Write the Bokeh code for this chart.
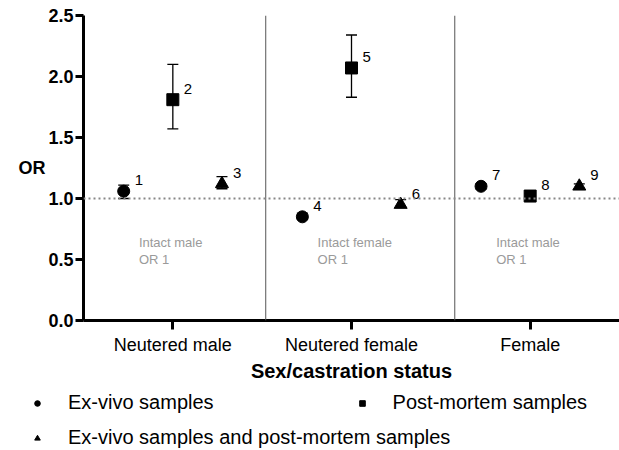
from bokeh.plotting import figure
from bokeh.models import (ColumnDataSource, Whisker, TeeHead, Span, Legend, LegendItem,
                          FixedTicker, NumeralTickFormatter, Range1d)
from bokeh.core.properties import value
from bokeh.embed import file_html
from bokeh.resources import INLINE

# ---- data ----
groups = ["Neutered male", "Neutered female", "Female"]
series = ["Ex-vivo samples", "Post-mortem samples", "Ex-vivo samples and post-mortem samples"]
point_labels = ["1", "2", "3", "4", "5", "6", "7", "8", "9"]
point_group = [0, 0, 0, 1, 1, 1, 2, 2, 2]
point_series = [0, 1, 2, 0, 1, 2, 0, 1, 2]
or_value = [1.06, 1.81, 1.12, 0.85, 2.07, 0.95, 1.10, 1.02, 1.10]
ci_lower = [1.00, 1.57, 1.08, 0.83, 1.83, 0.93, 1.08, 1.00, 1.08]
ci_upper = [1.11, 2.10, 1.18, 0.88, 2.34, 0.99, 1.12, 1.04, 1.12]
reference_labels = ["Intact male\nOR 1", "Intact female\nOR 1", "Intact male\nOR 1"]
y_ticks = [0.0, 0.5, 1.0, 1.5, 2.0, 2.5]

markers = ["circle", "square", "triangle"]
marker_sizes = [12, 12, 13]
offsets = [-0.275, 0.0, 0.275]
FONT = "Liberation Sans"

xs = [point_group[i] + 1 + offsets[point_series[i]] for i in range(len(or_value))]

p = figure(width=619, height=386, output_backend="svg", toolbar_location=None,
           x_range=Range1d(0.5, 3.5), y_range=Range1d(0, 2.5),
           min_border_left=83, min_border_right=0, min_border_top=15, min_border_bottom=66)
p.outline_line_color = None
p.grid.visible = False
p.background_fill_color = "white"
p.border_fill_color = "white"

# separators and reference line
for sx in [1.52, 2.578]:
    p.add_layout(Span(location=sx, dimension="height", line_color="#555555", line_width=1))
p.add_layout(Span(location=1.0, dimension="width", line_color="#888888", line_width=2.2,
                  line_dash="2 3"))

# error bars
src = ColumnDataSource(dict(x=xs, y=or_value, lo=ci_lower, hi=ci_upper, lab=point_labels))
p.add_layout(Whisker(source=src, base="x", lower="lo", upper="hi", dimension="height",
                     line_color="black", line_width=1.3,
                     upper_head=TeeHead(size=11, line_color="black", line_width=1.3),
                     lower_head=TeeHead(size=11, line_color="black", line_width=1.3)))

# points per series
series_sources = []
for s in range(3):
    idx = [i for i in range(len(or_value)) if point_series[i] == s]
    ssrc = ColumnDataSource(dict(x=[xs[i] for i in idx], y=[or_value[i] for i in idx]))
    series_sources.append(ssrc)
    p.scatter("x", "y", source=ssrc, marker=markers[s], size=marker_sizes[s],
              fill_color="black", line_color="black")

# point labels
p.text("x", "y", text="lab", source=src, x_offset=11, y_offset=-11,
       text_font=value(FONT), text_font_size="15px", text_color="black",
       text_align="left", text_baseline="middle")

# reference labels
ref_src = ColumnDataSource(dict(x=[g + 1 - 0.19 for g in range(3)], y=[0.70] * 3,
                                t=reference_labels))
p.text("x", "y", text="t", source=ref_src, text_font=value(FONT), text_font_size="13px",
       text_color="#9a9a9a", text_align="left", text_baseline="top", text_line_height=1.15)

# axes
p.xaxis.ticker = FixedTicker(ticks=[1, 2, 3])
p.xaxis.major_label_overrides = {1: groups[0], 2: groups[1], 3: groups[2]}
p.xaxis.axis_label = "Sex/castration status"
p.yaxis.ticker = FixedTicker(ticks=y_ticks)
p.yaxis.formatter = NumeralTickFormatter(format="0.0")
p.yaxis.axis_label = "OR"
p.yaxis.axis_label_orientation = "horizontal"
for ax in [p.xaxis[0], p.yaxis[0]]:
    ax.axis_line_width = 3
    ax.axis_line_color = "black"
    ax.major_tick_line_width = 3
    ax.major_tick_line_color = "black"
    ax.major_tick_in = 0
    ax.major_tick_out = 9
    ax.minor_tick_line_color = None
    ax.axis_label_text_font = FONT
    ax.axis_label_text_font_style = "bold"
    ax.major_label_text_font = FONT
    ax.major_label_text_color = "black"
    ax.axis_label_text_color = "black"
p.xaxis.major_label_text_font_size = "18px"
p.xaxis.major_label_standoff = 5
p.xaxis.axis_label_text_font_size = "20px"
p.xaxis.axis_label_standoff = 2
p.yaxis.major_label_text_font_size = "18px"
p.yaxis.major_label_text_font_style = "bold"
p.yaxis.major_label_standoff = 2
p.yaxis.major_tick_out = 8
p.yaxis.axis_label_text_font_size = "18px"
p.yaxis.axis_label_standoff = 0

# legend panel below the chart (separate root so its frame spans the full width)
pl = figure(width=619, height=64, output_backend="svg", toolbar_location=None,
            x_axis_type=None, y_axis_type=None, x_range=Range1d(10, 11), y_range=Range1d(10, 11),
            min_border=0)
pl.outline_line_color = None
pl.grid.visible = False
pl.background_fill_color = "white"
pl.border_fill_color = "white"
# the same series are drawn here only to supply legend glyphs; they fall outside this panel's ranges
leg_r = [pl.scatter("x", "y", source=series_sources[s], marker=markers[s], size=marker_sizes[s],
                    fill_color="black", line_color="black") for s in range(3)]
leg1 = Legend(items=[LegendItem(label=series[0], renderers=[leg_r[0]], index=0),
                     LegendItem(label=series[1], renderers=[leg_r[1]], index=0)],
              orientation="horizontal", spacing=141, location=(30, 36))
leg2 = Legend(items=[LegendItem(label=series[2], renderers=[leg_r[2]], index=0)],
              orientation="horizontal", location=(30, 1))
for lg in [leg1, leg2]:
    lg.label_text_font = FONT
    lg.label_text_font_size = "20px"
    lg.label_text_color = "black"
    lg.glyph_width = 14
    lg.glyph_height = 14
    lg.label_standoff = 24
    lg.border_line_color = None
    lg.background_fill_alpha = 0
    lg.padding = 0
    lg.margin = 0
    pl.add_layout(lg)

open("out.html", "w").write(file_html([p, pl], INLINE))
